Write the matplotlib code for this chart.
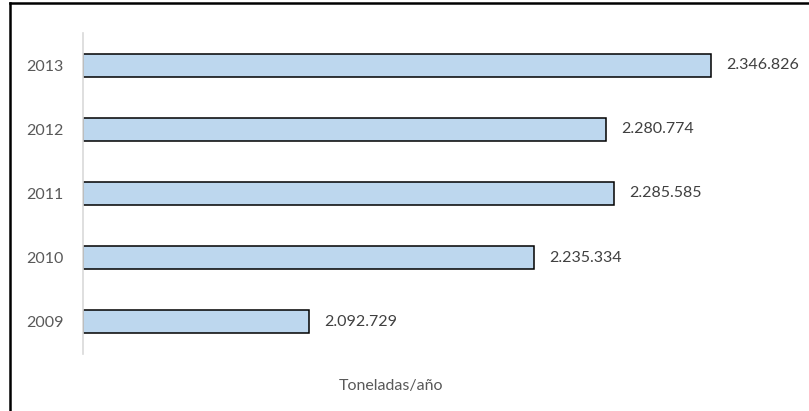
import matplotlib
matplotlib.use('Agg')
import matplotlib.pyplot as plt
from matplotlib.lines import Line2D

plt.rcParams['font.family'] = ['Lato', 'DejaVu Sans']

years = ['2009', '2010', '2011', '2012', '2013']
toneladas = [2092729, 2235334, 2285585, 2280774, 2346826]
etiquetas = ['2.092.729', '2.235.334', '2.285.585', '2.280.774', '2.346.826']

fig = plt.figure(figsize=(8.09, 4.11), dpi=100)
ax = fig.add_axes([0.1026, 0.1387, 0.880, 0.781])

x0 = 1950000
pos = range(len(years))
ax.barh(pos, [v - x0 for v in toneladas], left=x0, height=0.36,
        color='#BDD7EE', edgecolor='black', linewidth=1.1)

for p, v, lab in zip(pos, toneladas, etiquetas):
    ax.annotate(lab, xy=(v, p), xytext=(11, 0), textcoords='offset points',
                va='center', ha='left', fontsize=11.5, color='#404040')

ax.set_xlim(x0, 2400000)
ax.set_ylim(-0.5, 4.5)
ax.set_yticks(list(pos))
ax.set_yticklabels(years, fontsize=11.5, color='#595959')
ax.tick_params(axis='y', length=0, pad=14)
ax.set_xticks([])
for s in ['top', 'right', 'bottom']:
    ax.spines[s].set_visible(False)
ax.spines['left'].set_color('#D9D9D9')
ax.spines['left'].set_linewidth(1.2)

fig.text(0.483, 0.061, 'Toneladas/año', ha='center', va='center',
         fontsize=11.5, color='#595959')

# borde del gráfico (solo arriba e izquierda visibles)
fig.add_artist(Line2D([0.0118, 0.0118], [0, 0.992], transform=fig.transFigure,
                      color='black', linewidth=1.8))
fig.add_artist(Line2D([0.0118, 1], [0.992, 0.992], transform=fig.transFigure,
                      color='black', linewidth=1.8))

plt.savefig('out.png', dpi=100)
